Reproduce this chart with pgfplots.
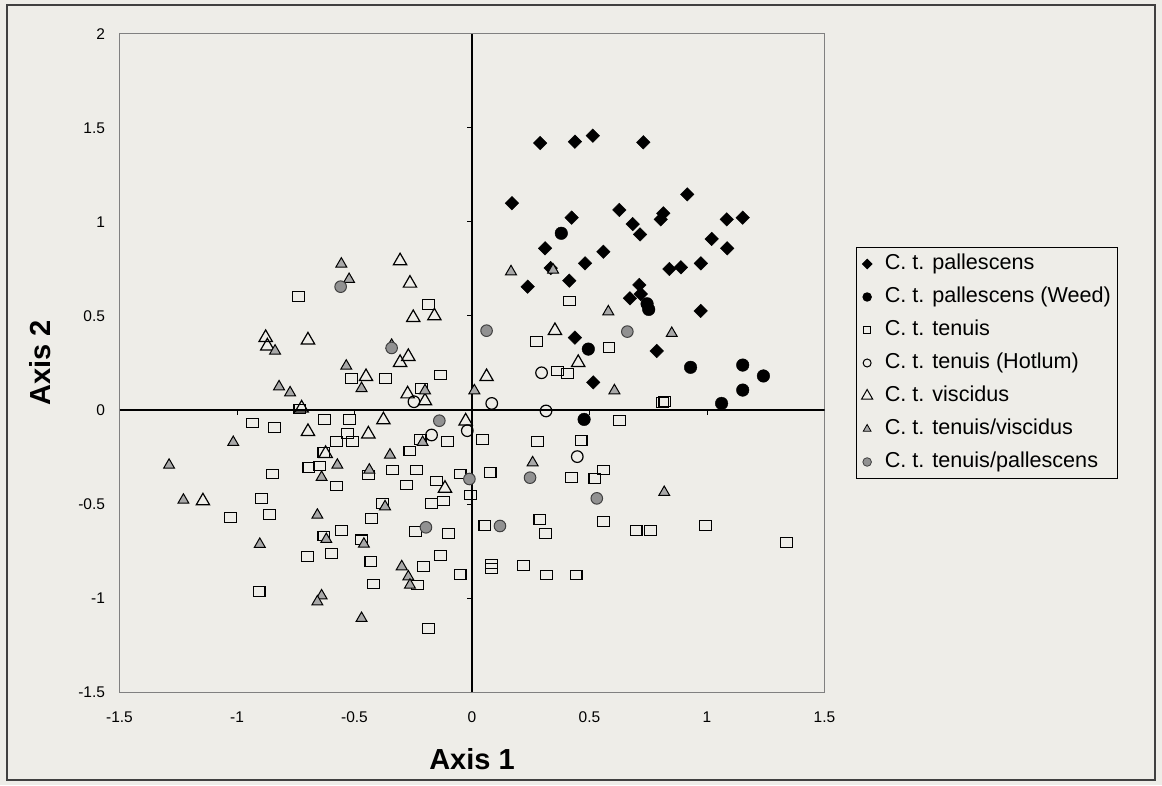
\documentclass[border=0pt]{standalone}
\usepackage{fontspec}
\setmainfont{Liberation Sans}
\usepackage{pgfplots}
\pgfplotsset{compat=1.18}
\definecolor{bg}{RGB}{238,237,232}
\definecolor{trigray}{RGB}{168,168,168}
\definecolor{octgray}{RGB}{145,145,145}
\pgfplotsset{mylegend/.style={legend image code/.code={\draw[##1] plot coordinates {(0pt,0pt)};}}}
\begin{document}
\begin{tikzpicture}[x=1pt,y=1pt]
\fill[bg] (0,0) rectangle (1162,785);
\draw[black!75, line width=1.5pt] (7,5) rectangle (1155,780);
\begin{axis}[
  at={(119.5pt,93pt)}, anchor=south west,
  width=705pt, height=658pt, scale only axis,
  xmin=-1.5,xmax=1.5,ymin=-1.5,ymax=2,
  xtick={-1.5,-1,-0.5,0,0.5,1,1.5},
  ytick={-1.5,-1,-0.5,0,0.5,1,1.5,2},
  major tick length=0pt,
  axis line style={draw=black!50, line width=1pt},
  axis background/.style={fill=bg},
  /pgf/number format/assume math mode=true,
  tick label style={font=\fontsize{15.5}{18}\selectfont},
  xticklabel style={yshift=-16pt},
  yticklabel style={xshift=-11pt},
  xlabel={\textbf{Axis 1}}, ylabel={\textbf{Axis 2}},
  label style={font=\fontsize{29}{34}\selectfont},
  xlabel style={at={(axis description cs:0.5,-0.081)}, anchor=north},
  ylabel style={at={(axis description cs:-0.113,0.5)}, anchor=center},
  legend cell align=left,
  legend style={at={(1.0447,0.6763)}, anchor=north west, draw=black, line width=1pt, fill=bg,
    font=\fontsize{21.6}{25}\selectfont, row sep=8pt, column sep=10pt, inner xsep=5pt, inner ysep=4pt,
    nodes={inner sep=2pt, text height=16pt, text depth=5pt}},
]
% zero lines
\draw[black, line width=1.1pt] (axis cs:-1.5,0) -- (axis cs:1.5,0);
\draw[black, line width=1.1pt] (axis cs:0,-1.5) -- (axis cs:0,2);
\draw[black, line width=1pt]
  (axis cs:-1,0) -- (axis cs:-1,-0.027)
  (axis cs:-0.5,0) -- (axis cs:-0.5,-0.027)
  (axis cs:0.5,0) -- (axis cs:0.5,-0.027)
  (axis cs:1,0) -- (axis cs:1,-0.027);
\draw[black, line width=1pt]
  (axis cs:0,-1) -- (axis cs:-0.021,-1)
  (axis cs:0,-0.5) -- (axis cs:-0.021,-0.5)
  (axis cs:0,0.5) -- (axis cs:-0.021,0.5)
  (axis cs:0,1) -- (axis cs:-0.021,1)
  (axis cs:0,1.5) -- (axis cs:-0.021,1.5);

% C. t. pallescens
\addplot[forget plot, only marks, mark=square*, mark size=4.8pt, mark options={rotate=45, fill=black, draw=black}] coordinates {
(0.29,1.42) (0.438,1.427) (0.514,1.459) (0.729,1.424) (0.17,1.10) (0.916,1.147) (0.627,1.064)
(0.424,1.023) (0.814,1.046) (0.803,1.014) (0.684,0.989) (0.715,0.934) (1.084,1.014) (1.152,1.023)
(1.020,0.910) (1.086,0.860) (0.559,0.842) (0.481,0.780) (0.414,0.688) (0.840,0.750) (0.889,0.759)
(0.974,0.780) (0.712,0.665) (0.672,0.594) (0.718,0.617) (0.973,0.527) (0.786,0.314) (0.311,0.860)
(0.335,0.755) (0.237,0.656) (0.438,0.385) (0.516,0.147)};

% C. t. pallescens (Weed)
\addplot[forget plot, only marks, mark=*, mark size=6.3pt, mark options={fill=black, draw=black}] coordinates {
(0.38,0.94) (0.745,0.565) (0.752,0.535) (0.495,0.324) (0.930,0.227) (1.152,0.239) (1.240,0.181)
(1.152,0.106) (1.062,0.035) (0.477,-0.050)};

% C. t. tenuis
\addplot[forget plot, only marks, mark=square, mark size=5.4pt, mark options={draw=black, line width=1.1pt, xscale=1.1, yscale=0.9}] coordinates {
(-0.739,0.603) (-0.513,0.168) (-0.732,0.005) (-0.935,-0.069) (-0.840,-0.094) (-0.627,-0.050)
(-0.521,-0.050) (-0.531,-0.124) (-0.577,-0.168) (-0.509,-0.168) (-0.63,-0.225)
(-0.186,0.562) (-0.367,0.168) (-0.133,0.186) (-0.214,0.115) (0.363,0.207) (0.407,0.195) (0.274,0.363)
(0.414,0.580) (-0.221,-0.156) (-0.103,-0.167) (0.044,-0.156) (0.279,-0.168) (-0.264,-0.218) (0.464,-0.163)
(-0.850,-0.340) (-0.694,-0.305) (-0.648,-0.298) (-0.577,-0.404) (-0.895,-0.470) (-1.027,-0.571)
(-0.861,-0.555) (-0.555,-0.642) (-0.63,-0.67) (-0.599,-0.762) (-0.699,-0.780) (-0.906,-0.966)
(-0.441,-0.346) (-0.338,-0.319) (-0.235,-0.319) (-0.278,-0.399) (-0.150,-0.378) (-0.122,-0.484)
(-0.174,-0.496) (-0.051,-0.340) (-0.006,-0.452) (0.077,-0.333) (0.424,-0.358) (-0.380,-0.496)
(-0.427,-0.576) (-0.240,-0.647) (-0.101,-0.656) (0.055,-0.615) (0.289,-0.582) (0.314,-0.656)
(-0.470,-0.691) (-0.430,-0.807) (-0.207,-0.833) (-0.133,-0.775) (-0.420,-0.926) (-0.233,-0.931)
(-0.051,-0.874) (0.084,-0.819) (0.084,-0.842) (0.218,-0.828) (0.318,-0.878) (0.443,-0.878) (-0.186,-1.161)
(0.583,0.333) (0.811,0.039) (0.821,0.044) (0.626,-0.057) (0.559,-0.319) (0.523,-0.363) (0.559,-0.594)
(0.698,-0.642) (0.760,-0.642) (0.993,-0.615) (1.339,-0.706)};

% C. t. tenuis (Hotlum)
\addplot[forget plot, only marks, mark=o, mark size=5.8pt, mark options={draw=black, line width=1.2pt}] coordinates {
(-0.247,0.044) (0.084,0.035) (0.296,0.198) (0.315,-0.005) (-0.172,-0.133) (-0.020,-0.110) (0.448,-0.248)};

% C. t. viscidus
\addplot[forget plot, only marks, mark=triangle, mark size=7.7pt, mark options={draw=black, line width=1.2pt}] coordinates {
(-0.878,0.385) (-0.871,0.340) (-0.698,0.372) (-0.725,0.01) (-0.698,-0.115) (-0.623,-0.232)
(-0.306,0.793) (-0.264,0.674) (-0.250,0.491) (-0.160,0.500) (-0.271,0.284) (-0.306,0.252)
(-0.451,0.177) (-0.274,0.085) (-0.200,0.048) (0.062,0.177) (0.452,0.252) (0.353,0.422)
(-0.027,-0.059) (-0.377,-0.053) (-0.441,-0.128) (-1.145,-0.484) (-0.115,-0.417)};

% C. t. tenuis/viscidus
\addplot[forget plot, only marks, mark=triangle*, mark size=6.3pt, mark options={fill=trigray, draw=black, line width=1pt}] coordinates {
(-0.556,0.777) (-0.523,0.695) (-0.838,0.314) (-0.535,0.234) (-0.821,0.124) (-0.774,0.092) (-1.016,-0.172)
(-0.342,0.345) (-0.470,0.115) (-0.200,0.103) (0.010,0.103) (0.166,0.736) (0.345,0.745) (-0.210,-0.172)
(-0.349,-0.239) (-1.289,-0.293) (-0.573,-0.293) (-0.640,-0.358) (-1.228,-0.479) (-0.658,-0.559)
(-0.620,-0.688) (-0.903,-0.714) (-0.640,-0.988) (-0.658,-1.020) (-0.470,-1.108)
(-0.437,-0.319) (0.258,-0.280) (-0.370,-0.514) (-0.460,-0.713) (-0.299,-0.833) (-0.271,-0.887)
(-0.264,-0.931) (0.580,0.523) (0.850,0.408) (0.606,0.103) (0.818,-0.438)};

% C. t. tenuis/pallescens
\addplot[forget plot, only marks, mark=*, mark size=5.8pt, mark options={fill=octgray, draw=black!75, line width=1pt}] coordinates {
(-0.559,0.656) (-0.342,0.33) (0.062,0.422) (-0.139,-0.057) (-0.011,-0.367) (0.247,-0.360)
(-0.196,-0.624) (0.119,-0.617) (0.661,0.417) (0.531,-0.470)};

% legend
\addlegendimage{mylegend, only marks, mark=square*, mark size=3.3pt, mark options={rotate=45, fill=black, draw=black}}
\addlegendentry{C. t. pallescens}
\addlegendimage{mylegend, only marks, mark=*, mark size=4.2pt, mark options={fill=black, draw=black}}
\addlegendentry{C. t. pallescens (Weed)}
\addlegendimage{mylegend, only marks, mark=square, mark size=3.5pt, mark options={draw=black, line width=1pt}}
\addlegendentry{C. t. tenuis}
\addlegendimage{mylegend, only marks, mark=o, mark size=4pt, mark options={draw=black, line width=1pt}}
\addlegendentry{C. t. tenuis (Hotlum)}
\addlegendimage{mylegend, only marks, mark=triangle, mark size=6.5pt, mark options={draw=black, line width=1pt}}
\addlegendentry{C. t. viscidus}
\addlegendimage{mylegend, only marks, mark=triangle*, mark size=4.5pt, mark options={fill=trigray, draw=black, line width=0.8pt}}
\addlegendentry{C. t. tenuis/viscidus}
\addlegendimage{mylegend, only marks, mark=*, mark size=4.3pt, mark options={fill=octgray, draw=black!75, line width=0.8pt}}
\addlegendentry{C. t. tenuis/pallescens}
\end{axis}
\end{tikzpicture}
\end{document}
